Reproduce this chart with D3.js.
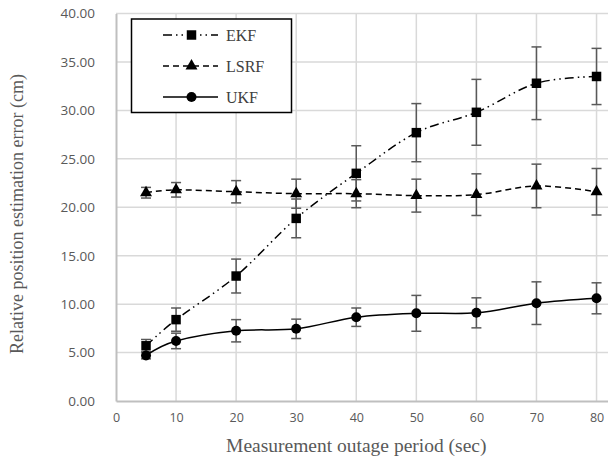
<!DOCTYPE html>
<html>
<head>
<meta charset="utf-8">
<script src="https://cdn.jsdelivr.net/npm/d3@7"></script>
<style>
  body { margin: 0; background: #fff; }
  svg { display: block; }
</style>
</head>
<body>
<div id="chart"></div>
<script>
// data
var periods = [5, 10, 20, 30, 40, 50, 60, 70, 80];
var ekf = [5.7, 8.4, 12.9, 18.85, 23.5, 27.7, 29.8, 32.8, 33.5];
var ekfErr = [0.65, 1.2, 1.75, 2.0, 2.85, 3.0, 3.4, 3.75, 2.9];
var lsrf = [21.5, 21.8, 21.6, 21.4, 21.4, 21.2, 21.3, 22.2, 21.6];
var lsrfErr = [0.55, 0.75, 1.15, 1.5, 1.45, 1.7, 2.15, 2.25, 2.4];
var ukf = [4.7, 6.2, 7.25, 7.45, 8.65, 9.05, 9.1, 10.1, 10.6];
var ukfErr = [0.35, 0.8, 1.15, 1.0, 0.95, 1.85, 1.55, 2.2, 1.6];
var xTicks = [0, 10, 20, 30, 40, 50, 60, 70, 80];
var yTicks = [0, 5, 10, 15, 20, 25, 30, 35, 40];
var seriesNames = ["EKF", "LSRF", "UKF"];

var svgWidth = 608;
var svgHeight = 460;

var svg = d3.select("#chart")
  .append("svg")
  .attr("width", svgWidth)
  .attr("height", svgHeight);

// the plot runs on past 80 and is cut by the picture edge
var x = d3.scaleLinear().domain([0, 90]).range([116, 656.6]);
var y = d3.scaleLinear().domain([0, 40]).range([401, 13.5]);

var grey = "#595959";
var sans = "'Open Sans', 'Noto Sans', sans-serif";
var serif = "'Liberation Serif', 'DejaVu Serif', serif";

// gridlines
svg.append("g")
  .selectAll("line")
  .data(yTicks.slice(1))
  .enter()
  .append("line")
    .attr("x1", x(0))
    .attr("x2", x(90))
    .attr("y1", d => y(d))
    .attr("y2", d => y(d))
    .attr("stroke", "#d9d9d9")
    .attr("stroke-width", 1.5);

svg.append("g")
  .selectAll("line")
  .data(xTicks.slice(1))
  .enter()
  .append("line")
    .attr("x1", d => x(d))
    .attr("x2", d => x(d))
    .attr("y1", y(0))
    .attr("y2", y(40))
    .attr("stroke", "#d9d9d9")
    .attr("stroke-width", 1.5);

// axes
var xAxis = svg.append("g")
  .attr("transform", "translate(0," + y(0) + ")")
  .call(d3.axisBottom(x).tickValues(xTicks).tickSize(0).tickPadding(12));
var yAxis = svg.append("g")
  .attr("transform", "translate(" + x(0) + ",0)")
  .call(d3.axisLeft(y).tickValues(yTicks).tickSize(0).tickPadding(21).tickFormat(d3.format(".2f")));

[xAxis, yAxis].forEach(function(a) {
  a.select(".domain").attr("stroke", "#bfbfbf").attr("stroke-width", 2);
  a.selectAll("text")
    .attr("fill", grey)
    .style("font-family", sans)
    .style("font-size", "13.5px");
});
xAxis.selectAll("text").style("font-size", "12.5px");

// axis titles
svg.append("text")
  .attr("x", x(40))
  .attr("y", 452)
  .attr("text-anchor", "middle")
  .attr("fill", grey)
  .style("font-family", serif)
  .style("font-size", "19.5px")
  .text("Measurement outage period (sec)");

svg.append("text")
  .attr("transform", "translate(23,214) rotate(-90)")
  .attr("text-anchor", "middle")
  .attr("fill", grey)
  .style("font-family", serif)
  .style("font-size", "18px")
  .text("Relative position estimation error (cm)");

var series = [
  { name: "EKF", values: ekf, err: ekfErr, dash: "9,4,1.5,4,1.5,4", shape: d3.symbolSquare, size: 90 },
  { name: "LSRF", values: lsrf, err: lsrfErr, dash: "6,4", shape: d3.symbolTriangle, size: 62 },
  { name: "UKF", values: ukf, err: ukfErr, dash: null, shape: d3.symbolCircle, size: 78 }
];

var line = d3.line()
  .x(d => x(d[0]))
  .y(d => y(d[1]))
  .curve(d3.curveCatmullRom.alpha(0));

series.forEach(function(s) {
  var pts = periods.map((p, i) => [p, s.values[i], s.err[i]]);

  // error bars
  var eb = svg.append("g");
  eb.selectAll(".stem")
    .data(pts)
    .enter()
    .append("line")
      .attr("x1", d => x(d[0]))
      .attr("x2", d => x(d[0]))
      .attr("y1", d => y(d[1] - d[2]))
      .attr("y2", d => y(d[1] + d[2]))
      .attr("stroke", grey)
      .attr("stroke-width", 1.5);
  [-1, 1].forEach(function(sg) {
    eb.selectAll(".cap" + sg)
      .data(pts)
      .enter()
      .append("line")
        .attr("x1", d => x(d[0]) - 5)
        .attr("x2", d => x(d[0]) + 5)
        .attr("y1", d => y(d[1] + sg * d[2]))
        .attr("y2", d => y(d[1] + sg * d[2]))
        .attr("stroke", grey)
        .attr("stroke-width", 1.5);
  });

  svg.append("path")
    .datum(pts)
    .attr("d", line)
    .attr("fill", "none")
    .attr("stroke", "#000")
    .attr("stroke-width", 1.5)
    .attr("stroke-dasharray", s.dash);

  svg.append("g")
    .selectAll("path")
    .data(pts)
    .enter()
    .append("path")
      .attr("transform", d => "translate(" + x(d[0]) + "," + y(d[1]) + ")")
      .attr("d", d3.symbol().type(s.shape).size(s.size))
      .attr("fill", "#000");
});

// legend
var legend = svg.append("g");
legend.append("rect")
  .attr("x", 131.5)
  .attr("y", 19)
  .attr("width", 160)
  .attr("height", 93.5)
  .attr("fill", "#fff")
  .attr("stroke", "#000")
  .attr("stroke-width", 1.5);

series.forEach(function(s, i) {
  var ly = 35 + i * 31;
  legend.append("line")
    .attr("x1", 163)
    .attr("x2", 218)
    .attr("y1", ly)
    .attr("y2", ly)
    .attr("stroke", "#000")
    .attr("stroke-width", 1.5)
    .attr("stroke-dasharray", s.dash);
  legend.append("path")
    .attr("transform", "translate(191.5," + ly + ")")
    .attr("d", d3.symbol().type(s.shape).size(s.size))
    .attr("fill", "#000");
  legend.append("text")
    .attr("x", 226)
    .attr("y", ly + 5.5)
    .attr("fill", "#404040")
    .style("font-family", serif)
    .style("font-size", "16px")
    .text(seriesNames[i]);
});
</script>
</body>
</html>
